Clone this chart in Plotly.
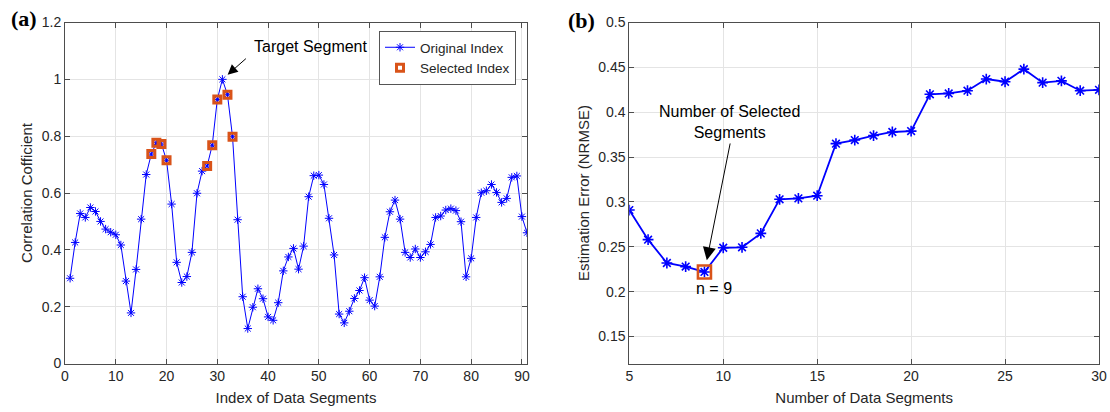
import plotly.graph_objects as go

# ---------------- data ----------------
seg_index = list(range(1, 92))
corr = [0.300, 0.426, 0.528, 0.514, 0.549, 0.535, 0.500, 0.473, 0.462, 0.453,
        0.417, 0.290, 0.178, 0.331, 0.508, 0.665, 0.737, 0.777, 0.772, 0.715,
        0.561, 0.356, 0.285, 0.306, 0.391, 0.599, 0.677, 0.695, 0.768, 0.929,
        1.000, 0.946, 0.798, 0.506, 0.235, 0.123, 0.198, 0.263, 0.228, 0.164,
        0.152, 0.214, 0.326, 0.375, 0.405, 0.332, 0.413, 0.587, 0.661, 0.663,
        0.630, 0.511, 0.382, 0.174, 0.143, 0.184, 0.229, 0.257, 0.302, 0.223,
        0.202, 0.305, 0.444, 0.534, 0.575, 0.508, 0.391, 0.373, 0.403, 0.373,
        0.393, 0.419, 0.514, 0.519, 0.540, 0.545, 0.538, 0.499, 0.305, 0.370,
        0.514, 0.601, 0.608, 0.630, 0.602, 0.567, 0.581, 0.655, 0.660, 0.517,
        0.460]
selected_index = [17, 18, 19, 20, 28, 29, 30, 32, 33]
selected_corr = [corr[i - 1] for i in selected_index]

n_segments = list(range(5, 31))
nrmse = [0.291, 0.258, 0.232, 0.228, 0.222, 0.249, 0.2495, 0.265, 0.303, 0.304,
         0.307, 0.365, 0.369, 0.374, 0.378, 0.379, 0.420, 0.421, 0.424, 0.437,
         0.434, 0.448, 0.433, 0.435, 0.424, 0.425]
best_n = 9
best_err = nrmse[n_segments.index(best_n)]

left_xticks = list(range(0, 100, 10))
left_yticks = [0, 0.2, 0.4, 0.6, 0.8, 1.0, 1.2]
left_yticklabels = ["0", "0.2", "0.4", "0.6", "0.8", "1", "1.2"]
right_xticks = [5, 10, 15, 20, 25, 30]
right_yticks = [0.15, 0.2, 0.25, 0.3, 0.35, 0.4, 0.45, 0.5]
right_yticklabels = ["0.15", "0.2", "0.25", "0.3", "0.35", "0.4", "0.45", "0.5"]

# ---------------- style ----------------
BLUE = "#0000FF"
ORANGE = "#D95319"
TXT = "#262626"
AX = "#4d4d4d"
GRID = "#e4e4e4"
FONT = "Liberation Sans, Arial, sans-serif"

fig = go.Figure()

fig.add_trace(go.Scatter(
    x=seg_index, y=corr, mode="lines+markers", name="Original Index",
    line=dict(color=BLUE, width=1),
    marker=dict(symbol="asterisk-open", size=7, color=BLUE,
                line=dict(color=BLUE, width=1)),
    xaxis="x", yaxis="y"))
fig.add_trace(go.Scatter(
    x=selected_index, y=selected_corr, mode="markers", name="Selected Index",
    marker=dict(symbol="square-open", size=7, color=ORANGE,
                line=dict(color=ORANGE, width=3)),
    xaxis="x", yaxis="y"))

fig.add_trace(go.Scatter(
    x=n_segments, y=nrmse, mode="lines+markers", showlegend=False,
    line=dict(color=BLUE, width=1.8),
    marker=dict(symbol="asterisk-open", size=9, color=BLUE,
                line=dict(color=BLUE, width=1.6)),
    xaxis="x2", yaxis="y2"))
fig.add_trace(go.Scatter(
    x=[best_n], y=[best_err], mode="markers", showlegend=False,
    marker=dict(symbol="square-open", size=13, color=ORANGE,
                line=dict(color=ORANGE, width=2.6)),
    xaxis="x2", yaxis="y2"))

common_axis = dict(
    showline=True, linecolor=AX, linewidth=1, mirror="ticks",
    ticks="inside", ticklen=5, tickcolor=AX, showgrid=True, gridcolor=GRID,
    gridwidth=1, zeroline=False, automargin=False,
    tickfont=dict(family=FONT, size=14, color=TXT),
)

y0, y1 = 48.5 / 412, 389.5 / 412

fig.update_layout(
    width=1110, height=412,
    margin=dict(l=0, r=0, t=0, b=0),
    paper_bgcolor="white", plot_bgcolor="white",
    font=dict(family=FONT, color=TXT),
    xaxis=dict(common_axis, domain=[65 / 1110, 527 / 1110], range=[0, 91],
               tickvals=left_xticks, anchor="y",
               title=dict(text="Index of Data Segments", standoff=9,
                          font=dict(family=FONT, size=15, color=TXT))),
    yaxis=dict(common_axis, domain=[y0, y1], range=[0, 1.2],
               tickvals=left_yticks, ticktext=left_yticklabels, anchor="x",
               title=dict(text="Correlation Cofficient", standoff=5,
                          font=dict(family=FONT, size=15, color=TXT))),
    xaxis2=dict(common_axis, domain=[629.3 / 1110, 1099 / 1110], range=[5, 30],
                tickvals=right_xticks, anchor="y2",
                title=dict(text="Number of Data Segments", standoff=9,
                           font=dict(family=FONT, size=15, color=TXT))),
    yaxis2=dict(common_axis, domain=[y0, y1], range=[0.12, 0.5],
                tickvals=right_yticks, ticktext=right_yticklabels, anchor="x2",
                title=dict(text="Estimation Error (NRMSE)", standoff=5,
                           font=dict(family=FONT, size=15, color=TXT))),
    legend=dict(x=516 / 1110, y=(412 - 31) / 412, xanchor="right", yanchor="top",
                bgcolor="white", bordercolor="#555555", borderwidth=1,
                font=dict(family=FONT, size=13.5, color=TXT),
                tracegroupgap=0, itemwidth=30),
    showlegend=True,
)

annotations = [
    dict(text="<b>(a)</b>", x=24 / 1110, y=1 - 19 / 412, xref="paper", yref="paper",
         showarrow=False, xanchor="center", yanchor="middle",
         font=dict(family="Liberation Serif, Times New Roman, serif", size=22, color="black")),
    dict(text="<b>(b)</b>", x=581 / 1110, y=1 - 21 / 412, xref="paper", yref="paper",
         showarrow=False, xanchor="center", yanchor="middle",
         font=dict(family="Liberation Serif, Times New Roman, serif", size=22, color="black")),
    dict(text="Target Segment", x=36.8, y=1.114, xref="x", yref="y",
         showarrow=False, xanchor="left", yanchor="middle",
         font=dict(family=FONT, size=16, color="black")),
    dict(text="", x=31, y=1.0, xref="x", yref="y", showarrow=True,
         ax=25, ay=-22, standoff=7, arrowhead=2, arrowsize=2, arrowwidth=1,
         arrowcolor="black"),
    dict(text="Number of Selected<br>Segments", x=10.32, y=0.389, xref="x2", yref="y2",
         showarrow=False, xanchor="center", yanchor="middle", align="center",
         font=dict(family=FONT, size=16, color="black")),
    dict(text="", x=best_n, y=best_err, xref="x2", yref="y2", showarrow=True,
         ax=26, ay=-130, standoff=12, arrowhead=2, arrowsize=2.6, arrowwidth=1,
         arrowcolor="black"),
    dict(text="n = 9", x=9.52, y=0.204, xref="x2", yref="y2",
         showarrow=False, xanchor="center", yanchor="middle",
         font=dict(family=FONT, size=16, color="black")),
]
fig.update_layout(annotations=annotations)

fig.write_html("out.html")
